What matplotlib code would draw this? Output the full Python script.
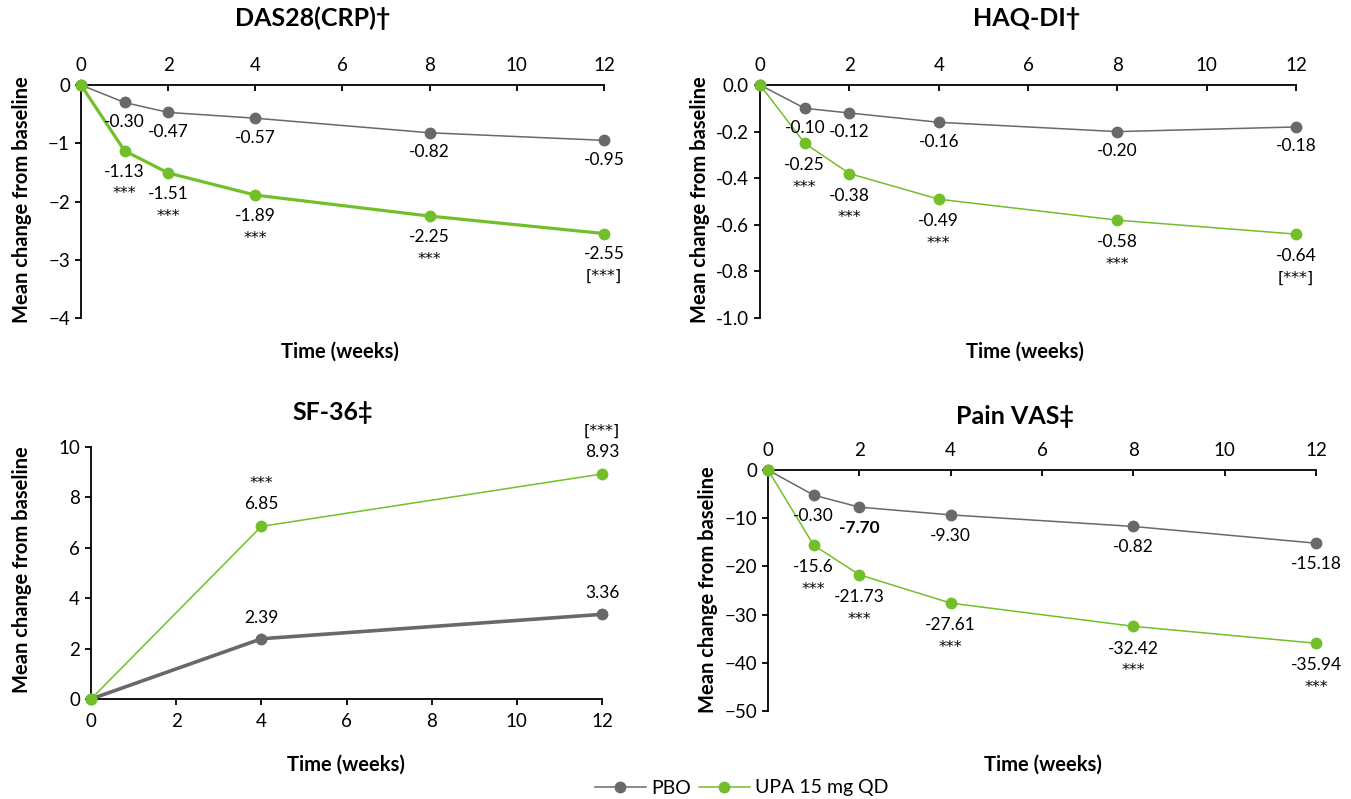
import matplotlib.pyplot as plt

plt.rcParams['font.family'] = ['Lato', 'DejaVu Sans']

GREY = '#696969'
GREEN = '#72bf2a'

# ---- data ----
weeks = [0, 1, 2, 4, 8, 12]
weeks_sf = [0, 4, 12]

das_pbo = [0, -0.30, -0.47, -0.57, -0.82, -0.95]
das_upa = [0, -1.13, -1.51, -1.89, -2.25, -2.55]
das_pbo_lab = ['', '-0.30', '-0.47', '-0.57', '-0.82', '-0.95']
das_upa_lab = ['', '-1.13', '-1.51', '-1.89', '-2.25', '-2.55']
das_stars = ['', '***', '***', '***', '***', '[***]']

haq_pbo = [0, -0.10, -0.12, -0.16, -0.20, -0.18]
haq_upa = [0, -0.25, -0.38, -0.49, -0.58, -0.64]
haq_pbo_lab = ['', '-0.10', '-0.12', '-0.16', '-0.20', '-0.18']
haq_upa_lab = ['', '-0.25', '-0.38', '-0.49', '-0.58', '-0.64']
haq_stars = ['', '***', '***', '***', '***', '[***]']

sf_pbo = [0, 2.39, 3.36]
sf_upa = [0, 6.85, 8.93]
sf_pbo_lab = ['', '2.39', '3.36']
sf_upa_lab = ['', '6.85', '8.93']
sf_stars = ['', '***', '[***]']

# plotted positions (labels as printed)
vas_pbo = [0, -5.2, -7.70, -9.30, -11.7, -15.18]
vas_upa = [0, -15.6, -21.73, -27.61, -32.42, -35.94]
vas_pbo_lab = ['', '-0.30', '-7.70', '-9.30', '-0.82', '-15.18']
vas_upa_lab = ['', '-15.6', '-21.73', '-27.61', '-32.42', '-35.94']
vas_stars = ['', '***', '***', '***', '***', '***']

fig = plt.figure(figsize=(13.51, 7.99), dpi=100)

TICK_FS = 13.5
LAB_FS = 12.5


def setup(ax, top_axis):
    for s in ax.spines.values():
        s.set_visible(False)
    ax.spines['left'].set_visible(True)
    ax.spines['left'].set_linewidth(1.3)
    if top_axis:
        ax.spines['top'].set_visible(True)
        ax.spines['top'].set_linewidth(1.3)
        ax.xaxis.tick_top()
        ax.tick_params(axis='x', direction='in', length=4, width=1.3, labelsize=TICK_FS, pad=8)
    else:
        ax.spines['bottom'].set_visible(True)
        ax.spines['bottom'].set_linewidth(1.3)
        ax.tick_params(axis='x', direction='out', length=4, width=1.3, labelsize=TICK_FS, pad=6)
    ax.tick_params(axis='y', direction='out', length=4, width=1.3, labelsize=TICK_FS, pad=4)
    ax.set_xlim(0, 12)
    ax.set_xticks(range(0, 13, 2))
    ax.patch.set_alpha(0)


def draw(ax, x, y, color, lw):
    ax.plot(x, y, color=color, lw=lw, marker='o', ms=7.5, clip_on=False, zorder=3)


def labels(ax, x, y, labs, dy, bold_idx=None, stars=False):
    for i, (xi, yi, t) in enumerate(zip(x, y, labs)):
        if t:
            kw = dict(family=['DejaVu Sans'], fontsize=11.5) if stars else dict(fontsize=LAB_FS)
            ax.annotate(t, (xi, yi), xytext=(0, dy), textcoords='offset points',
                        ha='center', va='center',
                        fontweight='bold' if i == bold_idx else 'normal', **kw)


# DAS28(CRP)
ax1 = fig.add_axes([0.05996, 0.6020, 0.3871, 0.2916])
setup(ax1, True)
ax1.set_ylim(-4, 0)
ax1.set_yticks([0, -1, -2, -3, -4])
draw(ax1, weeks, das_pbo, GREY, 1.1)
draw(ax1, weeks, das_upa, GREEN, 2.3)
labels(ax1, weeks, das_pbo, das_pbo_lab, -14)
labels(ax1, weeks, das_upa, das_upa_lab, -15)
labels(ax1, weeks, das_upa, das_stars, -31, stars=True)

# HAQ-DI
ax2 = fig.add_axes([0.5626, 0.6020, 0.3967, 0.2916])
setup(ax2, True)
ax2.set_ylim(-1.0, 0)
ax2.set_yticks([0, -0.2, -0.4, -0.6, -0.8, -1.0])
ax2.set_yticklabels(['0.0', '-0.2', '-0.4', '-0.6', '-0.8', '-1.0'])
draw(ax2, weeks, haq_pbo, GREY, 1.1)
draw(ax2, weeks, haq_upa, GREEN, 1.1)
labels(ax2, weeks, haq_pbo, haq_pbo_lab, -14)
labels(ax2, weeks, haq_upa, haq_upa_lab, -16)
labels(ax2, weeks, haq_upa, haq_stars, -32, stars=True)

# SF-36
ax3 = fig.add_axes([0.0674, 0.12516, 0.3782, 0.3154])
setup(ax3, False)
ax3.set_ylim(0, 10)
ax3.set_yticks([0, 2, 4, 6, 8, 10])
draw(ax3, weeks_sf, sf_pbo, GREY, 2.6)
draw(ax3, weeks_sf, sf_upa, GREEN, 1.1)
labels(ax3, weeks_sf, sf_pbo, sf_pbo_lab, 15)
labels(ax3, weeks_sf, sf_upa, sf_upa_lab, 16)
labels(ax3, weeks_sf, sf_upa, sf_stars, 31, stars=True)

# Pain VAS
ax4 = fig.add_axes([0.5685, 0.1101, 0.4056, 0.3016])
setup(ax4, True)
ax4.set_ylim(-50, 0)
ax4.set_yticks([0, -10, -20, -30, -40, -50])
draw(ax4, weeks, vas_pbo, GREY, 1.1)
draw(ax4, weeks, vas_upa, GREEN, 1.1)
labels(ax4, weeks, vas_pbo, vas_pbo_lab, -15, bold_idx=2)
labels(ax4, weeks, vas_upa, vas_upa_lab, -16)
labels(ax4, weeks, vas_upa, vas_stars, -32, stars=True)

# titles and axis labels
W, H = 1351, 799
def ftext(x, y, s, **kw):
    fig.text(x / W, 1 - y / H, s, ha='center', va='center', fontweight='bold', **kw)

ftext(313, 18, 'DAS28(CRP)\u2020', fontsize=18)
ftext(1027, 18, 'HAQ-DI\u2020', fontsize=18)
ftext(333, 413, 'SF-36\u2021', fontsize=18)
ftext(1015, 416, 'Pain VAS\u2021', fontsize=18)

for x, y in [(340, 352), (1025, 352), (346, 765), (1043, 765)]:
    ftext(x, y, 'Time (weeks)', fontsize=14.5)
for x, y in [(22, 200), (700, 200), (22, 570), (708, 590)]:
    ftext(x, y, 'Mean change from baseline', fontsize=14.5, rotation=90)

h1, = ax1.plot([], [], color=GREY, lw=1.1, marker='o', ms=7.5)
h2, = ax1.plot([], [], color=GREEN, lw=1.1, marker='o', ms=7.5)
fig.legend([h1, h2], ['PBO', 'UPA 15 mg QD'], loc='center',
           bbox_to_anchor=(742 / W, 1 - 788 / H), ncol=2, frameon=False,
           fontsize=14, handlelength=2.6, handletextpad=0.3, columnspacing=0.4,
           borderpad=0)

fig.savefig('out.png', dpi=100)
